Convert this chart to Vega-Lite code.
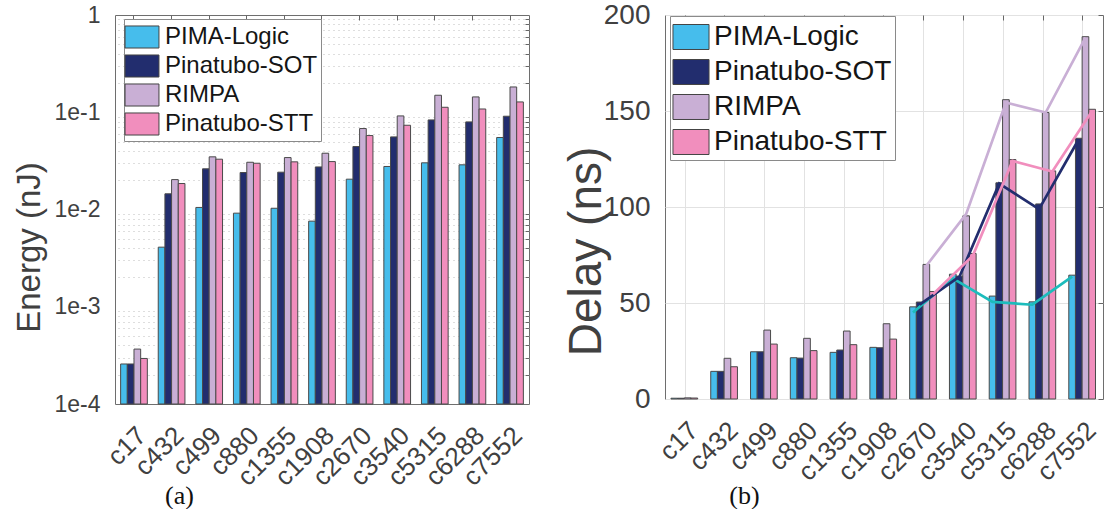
{
  "$schema": "https://vega.github.io/schema/vega-lite/v6.json",
  "autosize": {"type": "pad"},
  "padding": {"left": 12, "top": 0, "right": 0, "bottom": 0},
  "bounds": "flush",
  "spacing": 136,
  "background": "white",
  "resolve": {"scale": {"color": "independent"}, "legend": {"color": "independent"}},
  "config": {
    "font": "Liberation Sans",
    "view": {"stroke": "#6e6e6e", "strokeWidth": 1},
    "axis": {"labelColor": "#404040", "titleColor": "#404040", "titleFontWeight": "normal", "domain": false, "ticks": false, "gridColor": "#e2e2e2", "gridWidth": 1, "tickColor": "#666666"},
    "legend": {"orient": "none", "title": null, "symbolStrokeColor": "#444444", "symbolStrokeWidth": 1, "symbolOpacity": 1, "strokeColor": "#8a8a8a", "fillColor": "white", "padding": 3, "labelColor": "#151515", "labelOffset": 4, "rowPadding": 0, "labelLimit": 400}
  },
  "data": {"values": [
    {"bench": "c17", "series": "PIMA-Logic", "energy": 0.000258, "delay": 0.4, "line": null},
    {"bench": "c17", "series": "Pinatubo-SOT", "energy": 0.000258, "delay": 0.4, "line": null},
    {"bench": "c17", "series": "RIMPA", "energy": 0.000367, "delay": 0.6, "line": null},
    {"bench": "c17", "series": "Pinatubo-STT", "energy": 0.000294, "delay": 0.5, "line": null},
    {"bench": "c432", "series": "PIMA-Logic", "energy": 0.0041, "delay": 14.4, "line": null},
    {"bench": "c432", "series": "Pinatubo-SOT", "energy": 0.0145, "delay": 14.4, "line": null},
    {"bench": "c432", "series": "RIMPA", "energy": 0.0203, "delay": 21.2, "line": null},
    {"bench": "c432", "series": "Pinatubo-STT", "energy": 0.0185, "delay": 16.8, "line": null},
    {"bench": "c499", "series": "PIMA-Logic", "energy": 0.0105, "delay": 24.6, "line": null},
    {"bench": "c499", "series": "Pinatubo-SOT", "energy": 0.0262, "delay": 24.6, "line": null},
    {"bench": "c499", "series": "RIMPA", "energy": 0.0348, "delay": 35.9, "line": null},
    {"bench": "c499", "series": "Pinatubo-STT", "energy": 0.0329, "delay": 28.6, "line": null},
    {"bench": "c880", "series": "PIMA-Logic", "energy": 0.00917, "delay": 21.5, "line": null},
    {"bench": "c880", "series": "Pinatubo-SOT", "energy": 0.024, "delay": 21.3, "line": null},
    {"bench": "c880", "series": "RIMPA", "energy": 0.0306, "delay": 31.6, "line": null},
    {"bench": "c880", "series": "Pinatubo-STT", "energy": 0.0299, "delay": 25.2, "line": null},
    {"bench": "c1355", "series": "PIMA-Logic", "energy": 0.0103, "delay": 24.3, "line": null},
    {"bench": "c1355", "series": "Pinatubo-SOT", "energy": 0.0242, "delay": 25.5, "line": null},
    {"bench": "c1355", "series": "RIMPA", "energy": 0.0342, "delay": 35.4, "line": null},
    {"bench": "c1355", "series": "Pinatubo-STT", "energy": 0.0309, "delay": 28.3, "line": null},
    {"bench": "c1908", "series": "PIMA-Logic", "energy": 0.00759, "delay": 26.9, "line": null},
    {"bench": "c1908", "series": "Pinatubo-SOT", "energy": 0.0274, "delay": 26.7, "line": null},
    {"bench": "c1908", "series": "RIMPA", "energy": 0.0379, "delay": 39.2, "line": null},
    {"bench": "c1908", "series": "Pinatubo-STT", "energy": 0.0311, "delay": 31.2, "line": null},
    {"bench": "c2670", "series": "PIMA-Logic", "energy": 0.0205, "delay": 48.0, "line": 45.0},
    {"bench": "c2670", "series": "Pinatubo-SOT", "energy": 0.0444, "delay": 50.5, "line": 49.1},
    {"bench": "c2670", "series": "RIMPA", "energy": 0.068, "delay": 70.1, "line": 69.4},
    {"bench": "c2670", "series": "Pinatubo-STT", "energy": 0.0576, "delay": 56.0, "line": 54.6},
    {"bench": "c3540", "series": "PIMA-Logic", "energy": 0.0277, "delay": 65.0, "line": 62.8},
    {"bench": "c3540", "series": "Pinatubo-SOT", "energy": 0.0558, "delay": 64.0, "line": 63.7},
    {"bench": "c3540", "series": "RIMPA", "energy": 0.0917, "delay": 95.4, "line": 96.3},
    {"bench": "c3540", "series": "Pinatubo-STT", "energy": 0.0735, "delay": 75.8, "line": 74.6},
    {"bench": "c5315", "series": "PIMA-Logic", "energy": 0.0302, "delay": 53.6, "line": 50.6},
    {"bench": "c5315", "series": "Pinatubo-SOT", "energy": 0.0834, "delay": 112.6, "line": 112.2},
    {"bench": "c5315", "series": "RIMPA", "energy": 0.1496, "delay": 155.9, "line": 154.4},
    {"bench": "c5315", "series": "Pinatubo-STT", "energy": 0.1125, "delay": 124.7, "line": 124.0},
    {"bench": "c6288", "series": "PIMA-Logic", "energy": 0.0288, "delay": 50.6, "line": 49.1},
    {"bench": "c6288", "series": "Pinatubo-SOT", "energy": 0.0796, "delay": 101.6, "line": 98.9},
    {"bench": "c6288", "series": "RIMPA", "energy": 0.1438, "delay": 149.2, "line": 149.2},
    {"bench": "c6288", "series": "Pinatubo-STT", "energy": 0.108, "delay": 118.8, "line": 118.5},
    {"bench": "c7552", "series": "PIMA-Logic", "energy": 0.055, "delay": 64.5, "line": 63.7},
    {"bench": "c7552", "series": "Pinatubo-SOT", "energy": 0.091, "delay": 135.8, "line": 135.3},
    {"bench": "c7552", "series": "RIMPA", "energy": 0.182, "delay": 188.7, "line": 188.2},
    {"bench": "c7552", "series": "Pinatubo-STT", "energy": 0.1277, "delay": 150.9, "line": 150.0}
  ]},
  "hconcat": [
    {
      "width": 414,
      "height": 389,
      "layer": [
        {
          "mark": {"type": "rule", "opacity": 0},
          "encoding": {
            "x": {"field": "bench", "type": "nominal", "sort": null,
              "axis": {"orient": "top", "title": null, "labels": false, "ticks": true, "tickSize": -5, "grid": false}},
            "y": {"field": "energy", "type": "quantitative",
              "scale": {"type": "log", "domain": [0.0001, 1]},
              "axis": {"orient": "right", "title": null, "labels": false, "ticks": true, "tickSize": -4, "gridDash": [1, 4], "gridColor": "#bdbdbd",
                "values": [0.0002, 0.0003, 0.0004, 0.0005, 0.0006, 0.0007, 0.0008, 0.0009, 0.002, 0.003, 0.004, 0.005, 0.006, 0.007, 0.008, 0.009, 0.02, 0.03, 0.04, 0.05, 0.06, 0.07, 0.08, 0.09, 0.2, 0.3, 0.4, 0.5, 0.6, 0.7, 0.8, 0.9]}}
          }
        },
        {
          "mark": {"type": "bar", "stroke": "#4a4a4a", "strokeWidth": 1},
          "encoding": {
            "x": {"field": "bench", "type": "nominal", "sort": null,
              "scale": {"paddingInner": 0.29, "paddingOuter": 0.15},
              "axis": {"title": "(a)", "titleFont": "Liberation Serif", "titleFontSize": 26, "titleColor": "#111111", "titleX": 64, "titleY": 99, "titleBaseline": "alphabetic", "titleAlign": "center",
                "labelAngle": -45, "labelAlign": "right", "labelBaseline": "middle", "labelFontSize": 26, "labelPadding": 27, "labelOffset": 8, "grid": false}},
            "xOffset": {"field": "series", "sort": ["PIMA-Logic", "Pinatubo-SOT", "RIMPA", "Pinatubo-STT"], "scale": {"paddingInner": 0, "paddingOuter": 0}},
            "y": {"field": "energy", "type": "quantitative", "stack": null,
              "axis": {"orient": "left", "title": "Energy (nJ)", "titleFontSize": 33, "titleX": -86, "titleY": 232, "titleAngle": -90, "titleAlign": "center", "titleBaseline": "middle",
                "labelFontSize": 23, "labelPadding": 15, "gridColor": "#dcdcdc",
                "values": [0.0001, 0.001, 0.01, 0.1, 1],
                "labelExpr": "datum.value == 1 ? '1' : '1e' + round(log(datum.value)/LN10)"}},
            "y2": {"datum": 0.0001},
            "color": {"field": "series", "type": "nominal",
              "scale": {"domain": ["PIMA-Logic", "Pinatubo-SOT", "RIMPA", "Pinatubo-STT"], "range": ["#46BDEC", "#222D6E", "#C9AFD5", "#F18EBD"]},
              "legend": {"legendX": 9, "legendY": 4, "labelFontSize": 24, "symbolType": "M-1.17,-0.76H1.17V0.76H-1.17Z", "symbolSize": 841, "labelOffset": 8}}
          }
        }
      ],
      "resolve": {"axis": {"y": "independent", "x": "independent"}}
    },
    {
      "width": 438,
      "height": 384,
      "layer": [
        {
          "mark": {"type": "bar", "stroke": "#4a4a4a", "strokeWidth": 1},
          "encoding": {
            "x": {"field": "bench", "type": "nominal", "sort": null,
              "scale": {"paddingInner": 0.29, "paddingOuter": 0.15},
              "axis": {"title": "(b)", "titleFont": "Liberation Serif", "titleFontSize": 26, "titleColor": "#111111", "titleX": 79, "titleY": 104, "titleBaseline": "alphabetic", "titleAlign": "center",
                "labelAngle": -45, "labelAlign": "right", "labelBaseline": "middle", "labelFontSize": 26, "labelPadding": 27, "labelOffset": 9, "grid": true}},
            "xOffset": {"field": "series", "sort": ["PIMA-Logic", "Pinatubo-SOT", "RIMPA", "Pinatubo-STT"], "scale": {"paddingInner": 0, "paddingOuter": 0}},
            "y": {"field": "delay", "type": "quantitative",
              "scale": {"domain": [0, 200]},
              "axis": {"title": "Delay (ns)", "titleFontSize": 46, "titleX": -79, "titleY": 236, "titleAngle": -90, "titleAlign": "center", "titleBaseline": "middle",
                "labelFontSize": 28, "labelPadding": 15, "values": [0, 50, 100, 150, 200]}},
            "color": {"field": "series", "type": "nominal",
              "scale": {"domain": ["PIMA-Logic", "Pinatubo-SOT", "RIMPA", "Pinatubo-STT"], "range": ["#46BDEC", "#222D6E", "#C9AFD5", "#F18EBD"]},
              "legend": {"legendX": 5, "legendY": 1, "labelFontSize": 28, "symbolType": "M-1.03,-0.714H1.03V0.714H-1.03Z", "symbolSize": 1225, "labelOffset": 5, "rowPadding": 2}}
          }
        },
        {
          "transform": [{"filter": "isValid(datum.line)"}],
          "mark": {"type": "line", "strokeWidth": 2.7},
          "encoding": {
            "x": {"field": "bench", "type": "nominal", "sort": null,
              "axis": {"orient": "top", "title": null, "labels": false, "ticks": true, "tickSize": -5, "grid": false}},
            "xOffset": {"field": "series", "sort": ["PIMA-Logic", "Pinatubo-SOT", "RIMPA", "Pinatubo-STT"]},
            "y": {"field": "line", "type": "quantitative",
              "axis": {"orient": "right", "title": null, "labels": false, "ticks": true, "tickSize": -5, "grid": false, "values": [0, 50, 100, 150, 200]}},
            "stroke": {"field": "series", "type": "nominal",
              "scale": {"domain": ["PIMA-Logic", "Pinatubo-SOT", "RIMPA", "Pinatubo-STT"], "range": ["#1CBCBC", "#222D6E", "#C9AFD5", "#F18EBD"]},
              "legend": null}
          }
        }
      ],
      "resolve": {"axis": {"y": "independent", "x": "independent"}}
    }
  ]
}
